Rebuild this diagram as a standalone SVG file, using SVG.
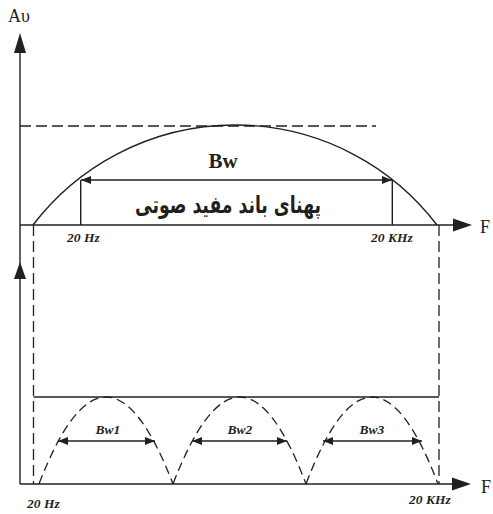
<svg xmlns="http://www.w3.org/2000/svg" width="493" height="514" viewBox="0 0 493 514">
<style>
.ln{stroke:#231f20;stroke-width:1.4;fill:none}
.ds{stroke:#231f20;stroke-width:1.3;fill:none;stroke-dasharray:11 5}
.da{stroke:#231f20;stroke-width:1.3;fill:none;stroke-dasharray:9 5}
.ah{fill:#231f20}
.lab{font-family:"Liberation Serif",serif;font-weight:bold;font-style:italic;font-size:13.5px;fill:#231f20}
.ax{font-family:"Liberation Serif",serif;font-size:18px;fill:#231f20}
</style>
<defs>
<marker id="arr" viewBox="0 0 10 8" refX="10" refY="4" markerWidth="10" markerHeight="8" markerUnits="userSpaceOnUse" orient="auto-start-reverse">
<path d="M0,0 L10,4 L0,8 z" fill="#231f20"/>
</marker>
</defs>
<g id="axes">
<line class="ln" x1="20" y1="48" x2="20" y2="484"/>
<polygon class="ah" points="20,33 14,53 26,53"/>
<polygon class="ah" points="20,262 14,279 26,279"/>
<line class="ln" x1="20" y1="225" x2="456" y2="225"/>
<polygon class="ah" points="472,225 453,218.5 453,231.5"/>
<line class="ln" x1="20" y1="484" x2="456" y2="484"/>
<polygon class="ah" points="471,484 452,477.5 452,490.5"/>
<text class="ax" x="8" y="22">Aυ</text>
<text class="ax" x="480" y="233">F</text>
<text class="ax" x="481" y="493">F</text>
</g>
<g id="upper">
<line class="ds" x1="20" y1="126" x2="376" y2="126"/>
<path class="ln" d="M33,225 A254,254 0 0 1 437,225"/>
<line class="ln" x1="80.7" y1="180" x2="80.7" y2="225"/>
<line class="ln" x1="392.3" y1="180" x2="392.3" y2="225"/>
<line class="ln" x1="81" y1="180" x2="392" y2="180" marker-start="url(#arr)" marker-end="url(#arr)"/>
<text x="223" y="168" text-anchor="middle" font-family="Liberation Serif, serif" font-weight="bold" font-size="21" fill="#231f20">Bw</text>
<text x="228" y="213" text-anchor="middle" font-family="DejaVu Sans, sans-serif" font-weight="bold" font-size="24" textLength="186" lengthAdjust="spacingAndGlyphs" fill="#231f20">پهنای باند مفید صوتی</text>
<text class="lab" x="67" y="242">20 Hz</text>
<text class="lab" x="371" y="242">20 KHz</text>
</g>
<g id="lower">
<line class="ds" x1="33.5" y1="225" x2="33.5" y2="484"/>
<line class="ds" x1="439" y1="225" x2="439" y2="484"/>
<line class="ln" x1="33.5" y1="397" x2="439" y2="397"/>
<path class="da" d="M39,484 Q106,310 173,484"/>
<path class="da" d="M173,484 Q240,310 306,484"/>
<path class="da" d="M306,484 Q372,310 438,484"/>
<line class="ln" x1="58" y1="441" x2="155" y2="441" marker-start="url(#arr)" marker-end="url(#arr)"/>
<line class="ln" x1="192" y1="441" x2="287" y2="441" marker-start="url(#arr)" marker-end="url(#arr)"/>
<line class="ln" x1="323" y1="441" x2="422" y2="441" marker-start="url(#arr)" marker-end="url(#arr)"/>
<text class="lab" x="108" y="434" text-anchor="middle">Bw1</text>
<text class="lab" x="240" y="434" text-anchor="middle">Bw2</text>
<text class="lab" x="372" y="434" text-anchor="middle">Bw3</text>
<text class="lab" x="27" y="508">20 Hz</text>
<text class="lab" x="409" y="504">20 KHz</text>
</g>
</svg>
